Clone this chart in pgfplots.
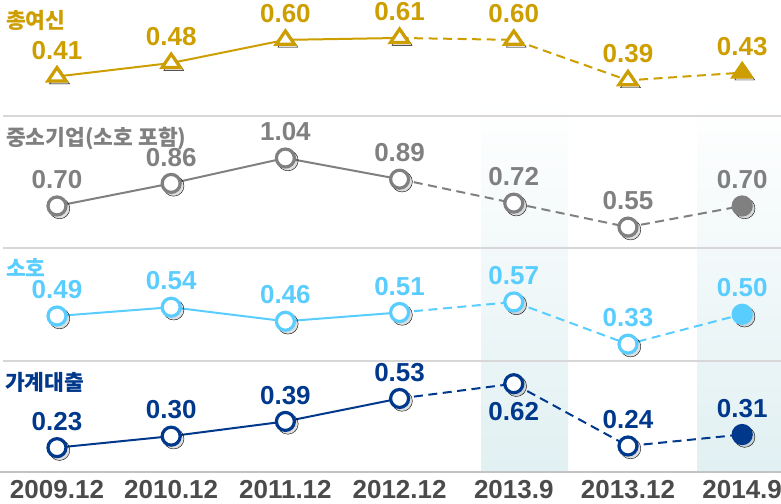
\documentclass[border=0pt]{standalone}
\usepackage{pgfplots}
\pgfplotsset{compat=1.18}
\usepackage{fontspec}
\setmainfont{Liberation Sans}
\newfontfamily\kr{Noto Sans CJK KR}
\definecolor{cgold}{RGB}{205,158,0}
\definecolor{cgray}{RGB}{128,128,128}
\definecolor{clblue}{RGB}{90,205,255}
\definecolor{cdblue}{RGB}{0,56,140}
\definecolor{ctick}{RGB}{75,75,75}
\definecolor{csep}{RGB}{215,215,215}
\definecolor{cbase}{RGB}{195,195,195}
\definecolor{cshade}{RGB}{225,240,242}
\pgfplotsset{
  panel/.style={scale only axis, width=781pt, xmin=-0.499, xmax=6.34,
    clip=false, anchor=south west},
  lbl/.style={nodes near coords, point meta=explicit symbolic,
    nodes near coords style={font=\fontsize{26}{30}\selectfont\bfseries, text=#1,
      anchor=south, inner sep=0pt, yshift=15.5pt}},
  lblbelow/.style={nodes near coords, point meta=explicit symbolic,
    nodes near coords style={font=\fontsize{26}{30}\selectfont\bfseries, text=#1,
      anchor=north, inner sep=0pt, yshift=-17pt}},
  sline/.style={#1, line width=2pt},
  dline/.style={#1, line width=2pt, dash pattern=on 9pt off 5.5pt},
  ocirc/.style={only marks, mark=*, mark size=9pt, mark options={draw=#1, fill=white, line width=3.2pt}},
  fcirc/.style={only marks, mark=*, mark size=9pt, mark options={draw=#1, fill=#1, line width=3.2pt}},
  shadow/.style={only marks, mark=#1, mark size=10.3pt, mark options={draw=none, fill=black, fill opacity=0.13, xshift=2.5pt, yshift=-2.5pt}},
}
\begin{document}
\begin{tikzpicture}
\useasboundingbox (0,0) rectangle (781pt,503pt);
% background columns
\shade[top color=white, bottom color=cshade] (481pt,31pt) rectangle (568pt,403pt);
\shade[top color=white, bottom color=cshade] (697pt,31pt) rectangle (800pt,403pt);
% separators
\draw[csep, line width=1.3pt] (3pt,387pt) -- (781pt,387pt);
\draw[csep, line width=1.3pt] (3pt,255pt) -- (781pt,255pt);
\draw[csep, line width=1.3pt] (3pt,142pt) -- (781pt,142pt);

% Panel 1
\begin{axis}[panel, hide axis, at={(0pt,387pt)}, height=116pt, ymin=0.205, ymax=0.807]
\addplot[sline=cgold] coordinates {(0,0.41) (1,0.48) (2,0.60) (3,0.61)};
\addplot[dline=cgold] coordinates {(3,0.61) (4,0.60) (5,0.39) (6,0.43)};
\addplot[only marks, mark=triangle*, mark size=11.5pt, mark options={draw=none, fill=black, fill opacity=0.12, xshift=2.5pt, yshift=-2.5pt, yscale=0.85}] coordinates {(0,0.41) (1,0.48) (2,0.60) (3,0.61) (4,0.60) (5,0.39) (6,0.43)};
\addplot[only marks, mark=triangle*, mark size=10.5pt, mark options={draw=cgold, fill=white, line width=3.2pt, yscale=0.85}, lbl=cgold]
  coordinates {(0,0.41)[0.41] (1,0.48)[0.48] (2,0.60)[0.60] (3,0.61)[0.61] (4,0.60)[0.60] (5,0.39)[0.39]};
\addplot[only marks, mark=triangle*, mark size=10.5pt, mark options={draw=cgold, fill=cgold, line width=3.2pt, yscale=0.85}, lbl=cgold]
  coordinates {(6,0.43)[0.43]};
\end{axis}

% Panel 2
\begin{axis}[panel, hide axis, at={(0pt,255pt)}, height=132pt, ymin=0.402, ymax=1.338]
\addplot[sline=cgray] coordinates {(0,0.70) (1,0.86) (2,1.04) (3,0.89)};
\addplot[dline=cgray] coordinates {(3,0.89) (4,0.72) (5,0.55) (6,0.70)};
\addplot[shadow=*] coordinates {(0,0.70) (1,0.86) (2,1.04) (3,0.89) (4,0.72) (5,0.55) (6,0.70)};
\addplot[ocirc=cgray, lbl=cgray]
  coordinates {(0,0.70)[0.70] (1,0.86)[0.86] (2,1.04)[1.04] (3,0.89)[0.89] (4,0.72)[0.72] (5,0.55)[0.55]};
\addplot[fcirc=cgray, lbl=cgray] coordinates {(6,0.70)[0.70]};
\end{axis}

% Panel 3
\begin{axis}[panel, hide axis, at={(0pt,142pt)}, height=113pt, ymin=0.234, ymax=0.877]
\addplot[sline=clblue] coordinates {(0,0.49) (1,0.54) (2,0.46) (3,0.51)};
\addplot[dline=clblue] coordinates {(3,0.51) (4,0.57) (5,0.33) (6,0.50)};
\addplot[shadow=*] coordinates {(0,0.49) (1,0.54) (2,0.46) (3,0.51) (4,0.57) (5,0.33) (6,0.50)};
\addplot[ocirc=clblue, lbl=clblue]
  coordinates {(0,0.49)[0.49] (1,0.54)[0.54] (2,0.46)[0.46] (3,0.51)[0.51] (4,0.57)[0.57] (5,0.33)[0.33]};
\addplot[fcirc=clblue, lbl=clblue] coordinates {(6,0.50)[0.50]};
\end{axis}

% Panel 4
\begin{axis}[panel, at={(0pt,31pt)}, height=111pt, ymin=0.0815, ymax=0.7586,
  axis y line=none, axis x line=bottom,
  x axis line style={-, draw=cbase, line width=2.4pt},
  xtick={0,1,2,3,4,5,6}, major tick length=0pt,
  xticklabels={2009.12,2010.12,2011.12,2012.12,2013.9,2013.12,2014.9},
  xticklabel style={font=\fontsize{26}{30}\selectfont\bfseries, text=ctick, inner sep=0pt, anchor=north, yshift=-8pt}]
\addplot[sline=cdblue] coordinates {(0,0.23) (1,0.30) (2,0.39) (3,0.53)};
\addplot[dline=cdblue] coordinates {(3,0.53) (4,0.62) (5,0.24) (6,0.31)};
\addplot[shadow=*] coordinates {(0,0.23) (1,0.30) (2,0.39) (3,0.53) (4,0.62) (5,0.24) (6,0.31)};
\addplot[ocirc=cdblue, lbl=cdblue]
  coordinates {(0,0.23)[0.23] (1,0.30)[0.30] (2,0.39)[0.39] (3,0.53)[0.53] (5,0.24)[0.24]};
\addplot[ocirc=cdblue, lblbelow=cdblue] coordinates {(4,0.62)[0.62]};
\addplot[fcirc=cdblue, lbl=cdblue] coordinates {(6,0.31)[0.31]};
\end{axis}

% panel titles
\node[anchor=west, inner sep=0pt, text=cgold, font=\kr\fontsize{21.5}{24}\selectfont\bfseries] at (6pt,483pt) {총여신};
\node[anchor=west, inner sep=0pt, text=cgray, font=\kr\fontsize{21.5}{24}\selectfont\bfseries] at (6pt,364pt) {중소기업(소호 포함)};
\node[anchor=west, inner sep=0pt, text=clblue, font=\kr\fontsize{21.5}{24}\selectfont\bfseries] at (6pt,235pt) {소호};
\node[anchor=west, inner sep=0pt, text=cdblue, font=\kr\fontsize{21.5}{24}\selectfont\bfseries] at (5pt,121pt) {가계대출};
\end{tikzpicture}
\end{document}
